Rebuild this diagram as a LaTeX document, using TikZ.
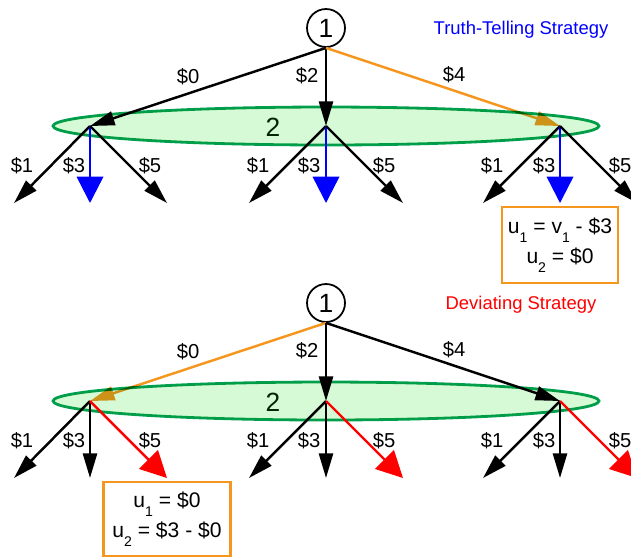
\documentclass[tikz,border=0pt]{standalone}
\usepackage{fontspec}
\setmainfont{Liberation Sans}
\usetikzlibrary{arrows.meta,positioning,shapes.geometric}
\definecolor{setgreen}{RGB}{0,160,80}
\definecolor{setfill}{RGB}{214,250,214}
\definecolor{payorange}{RGB}{245,150,30}
\newcommand{\usub}[1]{u\raisebox{-0.8ex}{\fontsize{8}{8}\selectfont #1}}
\newcommand{\vsub}[1]{v\raisebox{-0.8ex}{\fontsize{8}{8}\selectfont #1}}
\tikzset{
  root/.style={draw,ellipse,line width=1pt,minimum width=0.76cm,minimum height=0.76cm,inner sep=0pt,font=\fontsize{15}{17}\selectfont},
  infoset/.style={draw=setgreen,fill=setfill,ellipse,line width=1.6pt,minimum width=10.92cm,minimum height=0.76cm,inner sep=0pt,blend mode=multiply},
  setname/.style={font=\fontsize{15}{17}\selectfont,text=black!85!green},
  move/.style={line width=1.4pt,-{Triangle[length=14pt,width=8pt]}},
  bigmove/.style={line width=1.4pt,-{Triangle[length=15pt,width=15pt]}},
  bid/.style={font=\fontsize{11.5}{13}\selectfont},
  strat/.style={font=\fontsize{10.5}{12}\selectfont},
  paybox/.style={draw=payorange,line width=1.4pt,align=center,font=\fontsize{12}{17.5}\selectfont,inner sep=0pt},
}

\begin{document}
\begin{tikzpicture}[x=0.02cm,y=-0.02cm]
\useasboundingbox (0,0) rectangle (631,556);
% truth-telling tree
\node[root] (t1) at (326,28) {1};
\node[strat,text=blue] (ttitle) at (521,30) {Truth-Telling Strategy};
\coordinate (tA) at (90,126); \coordinate (tB) at (326,126); \coordinate (tC) at (560,126);
\coordinate (tA1) at (14,203); \coordinate (tA3) at (90,203); \coordinate (tA5) at (167,203);
\coordinate (tB1) at (249,203); \coordinate (tB3) at (326,203); \coordinate (tB5) at (403,203);
\coordinate (tC1) at (483,203); \coordinate (tC3) at (560,203); \coordinate (tC5) at (637,203);
\draw[move] (t1.south) -- (tA);
\draw[move] (t1.south) -- (tB);
\draw[move,payorange] (t1.south) -- (tC);
\node[infoset] (tset) at (326,126) {};
\node[setname] (tsetname) at (273,127) {2};
\draw[move] (tA) -- (tA1); \draw[bigmove,blue] (tA) -- (tA3); \draw[move] (tA) -- (tA5);
\draw[move] (tB) -- (tB1); \draw[bigmove,blue] (tB) -- (tB3); \draw[move] (tB) -- (tB5);
\draw[move] (tC) -- (tC1); \draw[bigmove,blue] (tC) -- (tC3); \draw[move] (tC) -- (tC5);
\node[bid] (tb0) at (188,77) {\$0};
\node[bid] (tb2) at (307,76) {\$2};
\node[bid] (tb4) at (454,75) {\$4};
\node[bid] (tbA1) at (22,166) {\$1}; \node[bid] (tbA3) at (74,166) {\$3}; \node[bid] (tbA5) at (150,166) {\$5};
\node[bid] (tbB1) at (258,166) {\$1}; \node[bid] (tbB3) at (309,166) {\$3}; \node[bid] (tbB5) at (384,166) {\$5};
\node[bid] (tbC1) at (492,166) {\$1}; \node[bid] (tbC3) at (544,166) {\$3}; \node[bid] (tbC5) at (620,166) {\$5};
\node[paybox,minimum width=2.32cm,minimum height=1.52cm,below=0.06cm of tC3] (tpay) {\usub{1} = \vsub{1} - \$3\\ \usub{2} = \$0};
% deviating tree
\node[root] (d1) at (326,303) {1};
\node[strat,text=red] (dtitle) at (521,305) {Deviating Strategy};
\coordinate (dA) at (90,401); \coordinate (dB) at (326,401); \coordinate (dC) at (560,401);
\coordinate (dA1) at (14,478); \coordinate (dA3) at (90,478); \coordinate (dA5) at (167,478);
\coordinate (dB1) at (249,478); \coordinate (dB3) at (326,478); \coordinate (dB5) at (403,478);
\coordinate (dC1) at (483,478); \coordinate (dC3) at (560,478); \coordinate (dC5) at (637,478);
\draw[move,payorange] (d1.south) -- (dA);
\draw[move] (d1.south) -- (dB);
\draw[move] (d1.south) -- (dC);
\node[infoset] (dset) at (326,401) {};
\node[setname] (dsetname) at (273,402) {2};
\draw[move] (dA) -- (dA1); \draw[move] (dA) -- (dA3); \draw[bigmove,red] (dA) -- (dA5);
\draw[move] (dB) -- (dB1); \draw[move] (dB) -- (dB3); \draw[bigmove,red] (dB) -- (dB5);
\draw[move] (dC) -- (dC1); \draw[move] (dC) -- (dC3); \draw[bigmove,red] (dC) -- (dC5);
\node[bid] (db0) at (188,352) {\$0};
\node[bid] (db2) at (307,351) {\$2};
\node[bid] (db4) at (454,350) {\$4};
\node[bid] (dbA1) at (22,441) {\$1}; \node[bid] (dbA3) at (74,441) {\$3}; \node[bid] (dbA5) at (150,441) {\$5};
\node[bid] (dbB1) at (258,441) {\$1}; \node[bid] (dbB3) at (309,441) {\$3}; \node[bid] (dbB5) at (384,441) {\$5};
\node[bid] (dbC1) at (492,441) {\$1}; \node[bid] (dbC3) at (544,441) {\$3}; \node[bid] (dbC5) at (620,441) {\$5};
\node[paybox,minimum width=2.54cm,minimum height=1.48cm,below=0.06cm of dA5] (dpay) {\usub{1} = \$0\\ \usub{2} = \$3 - \$0};
\end{tikzpicture}
\end{document}
